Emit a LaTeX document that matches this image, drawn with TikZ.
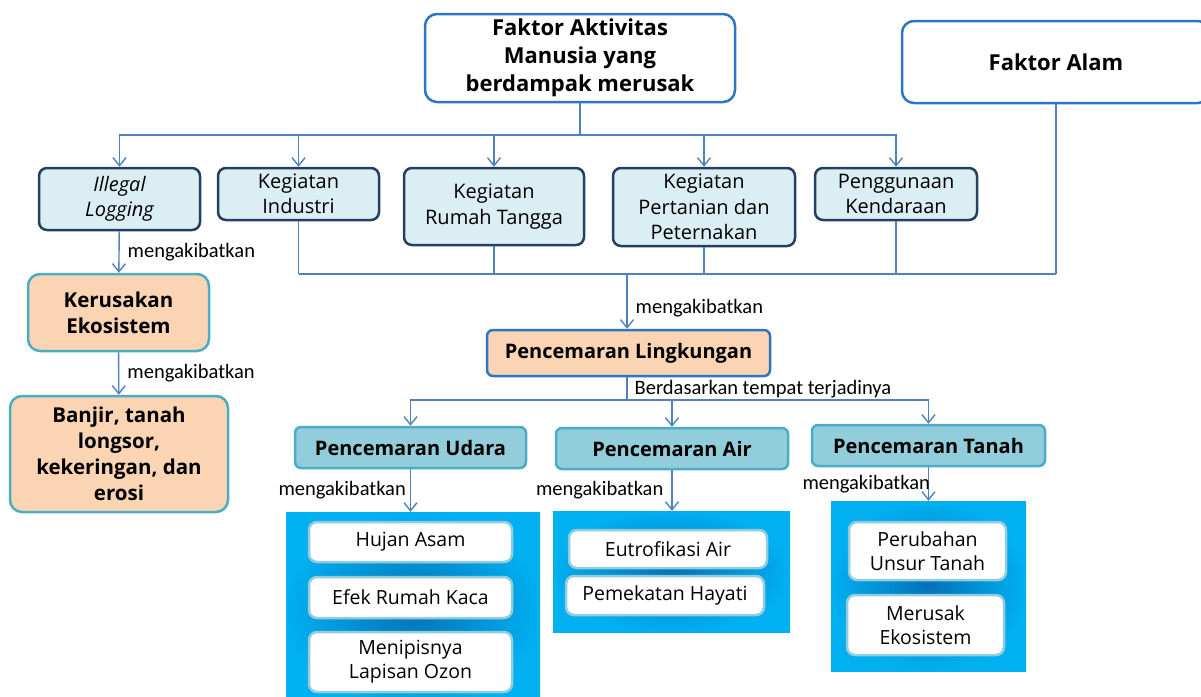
\documentclass[tikz,border=0pt]{standalone}
\usepackage{fontspec}
\setmainfont{Open Sans}
\newfontfamily\lblfont{Carlito}
\usepackage{xcolor}
\usetikzlibrary{arrows.meta, positioning, calc}
\definecolor{linkblue}{HTML}{4F81BD}
\definecolor{factorblue}{HTML}{2E75C6}
\definecolor{navyline}{HTML}{243F60}
\definecolor{paleblue}{HTML}{DAEEF3}
\definecolor{peach}{HTML}{FBD4B4}
\definecolor{tealline}{HTML}{4BACC6}
\definecolor{midteal}{HTML}{92CDDC}
\definecolor{panelout}{HTML}{00B0F0}
\definecolor{panelin}{HTML}{0572B8}
\tikzset{
  factorbox/.style={
    draw=factorblue, line width=2.5pt, rounded corners=12pt, fill=white,
    align=center, inner sep=0pt, font=\bfseries\fontsize{22}{28}\selectfont
  },
  activitybox/.style={
    draw=navyline, line width=2.5pt, rounded corners=8pt, fill=paleblue,
    align=center, inner sep=0pt, font=\fontsize{20}{25.5}\selectfont
  },
  impactbox/.style={
    draw=tealline, line width=2.5pt, rounded corners=12pt, fill=peach,
    align=center, inner sep=0pt, font=\bfseries\fontsize{20.5}{26}\selectfont
  },
  typebox/.style={
    draw=tealline, line width=2.5pt, rounded corners=6pt, fill=midteal,
    align=center, inner sep=0pt, font=\bfseries\fontsize{20}{26}\selectfont
  },
  effectpanel/.style={
    inner color=panelin, outer color=panelout, inner sep=0pt
  },
  effectbox/.style={
    draw=tealline!60, line width=2.5pt, rounded corners=8pt, fill=white,
    align=center, inner sep=0pt, font=\fontsize{19.5}{24}\selectfont
  },
  link/.style={draw=linkblue, line width=1.4pt},
  linkarrow/.style={link, -{Straight Barb[length=8pt, width=13pt]}},
  causelabel/.style={font=\lblfont\fontsize{20.5}{23}\selectfont, inner sep=2pt},
}
\begin{document}
\begin{tikzpicture}[x=1pt, y=-1pt]
  \useasboundingbox (0,0) rectangle (1201,696);

  % ── Faktor (top) ──
  \node[factorbox, minimum width=310pt, minimum height=88pt] (aktivitas)
    at (580,58) {Faktor Aktivitas\\Manusia yang\\berdampak merusak};
  \node[factorbox, minimum width=308pt, minimum height=82pt] (alam)
    at (1056,62) {Faktor Alam};

  % ── Aktivitas manusia ──
  \node[activitybox, minimum width=161pt, minimum height=62pt] (illegal)
    at (119.5,199) {\itshape Illegal\\\itshape Logging};
  \node[activitybox, minimum width=161pt, minimum height=52pt] (industri)
    at (298.5,194) {Kegiatan\\Industri};
  \node[activitybox, minimum width=180pt, minimum height=77pt] (rumah)
    at (494,206.5) {Kegiatan\\Rumah Tangga};
  \node[activitybox, minimum width=182pt, minimum height=78pt] (pertanian)
    at (704,207) {Kegiatan\\Pertanian dan\\Peternakan};
  \node[activitybox, minimum width=162pt, minimum height=52pt] (kendaraan)
    at (896,194) {Penggunaan\\Kendaraan};

  \coordinate (topbus) at (580,135);
  \draw[link] (aktivitas) -- (topbus);
  \foreach \n in {illegal,industri,rumah,pertanian,kendaraan}
    \draw[linkarrow] (topbus) -| (\n);

  % ── Kerusakan ekosistem (left) ──
  \node[impactbox, minimum width=181pt, minimum height=77pt] (kerusakan)
    at (118.5,312.5) {Kerusakan\\Ekosistem};
  \node[impactbox, minimum width=218pt, minimum height=116pt] (banjir)
    at (119,454) {Banjir, tanah\\longsor,\\kekeringan, dan\\erosi};

  \draw[linkarrow] (illegal) -- (kerusakan)
    node[causelabel, midway, right=6pt] {mengakibatkan};
  \draw[linkarrow] (kerusakan) -- (banjir)
    node[causelabel, midway, right=6pt] {mengakibatkan};

  % ── Pencemaran lingkungan ──
  \node[factorbox, fill=peach, rounded corners=6pt, font=\bfseries\fontsize{20}{26}\selectfont,
    minimum width=283pt, minimum height=46pt] (lingkungan)
    at (628.5,353) {Pencemaran Lingkungan};

  \coordinate (midbus) at (627,274);
  \foreach \n in {industri,rumah,pertanian,kendaraan,alam}
    \draw[link] (\n.south) -- (\n.south |- midbus);
  \draw[link] (industri.south |- midbus) -- (alam.south |- midbus);
  \draw[linkarrow] (midbus) -- (lingkungan.north -| midbus)
    node[causelabel, pos=0.62, right=6pt] {mengakibatkan};

  % ── Jenis pencemaran ──
  \node[typebox, minimum width=231pt, minimum height=41pt] (udara)
    at (410.5,447.5) {Pencemaran Udara};
  \node[typebox, minimum width=232pt, minimum height=41pt] (air)
    at (672,448.5) {Pencemaran Air};
  \node[typebox, minimum width=233pt, minimum height=41pt] (tanah)
    at (928.5,445.5) {Pencemaran Tanah};

  \coordinate (lowbus) at (627,400);
  \draw[link] (lingkungan.south -| lowbus) -- (lowbus)
    node[causelabel, pos=1, anchor=south west, xshift=5pt, yshift=-1pt]
    {Berdasarkan tempat terjadinya};
  \foreach \n in {udara,air,tanah}
    \draw[linkarrow] (lowbus) -| (\n);

  % ── Akibat (blue panels) ──
  \node[effectpanel, minimum width=254pt, minimum height=196pt] (udarafx)
    at (413,610) {};
  \node[effectpanel, minimum width=237pt, minimum height=121pt] (airfx)
    at (671.5,571.5) {};
  \node[effectpanel, minimum width=195pt, minimum height=170pt] (tanahfx)
    at (928.5,586) {};

  \node[effectbox, minimum width=203pt, minimum height=40pt] (hujan)
    at (410.5,542) {Hujan Asam};
  \node[effectbox, minimum width=203pt, minimum height=41pt] (efek)
    at (410.5,597.5) {Efek Rumah Kaca};
  \node[effectbox, minimum width=203pt, minimum height=60pt] (ozon)
    at (410.5,662) {Menipisnya\\Lapisan Ozon};
  \node[effectbox, minimum width=198pt, minimum height=38pt] (eutrofikasi)
    at (668,549) {Eutrofikasi Air};
  \node[effectbox, minimum width=198pt, minimum height=39pt] (pemekatan)
    at (665,595.5) {Pemekatan Hayati};
  \node[effectbox, minimum width=157pt, minimum height=58pt] (unsur)
    at (927.5,551) {Perubahan\\Unsur Tanah};
  \node[effectbox, minimum width=157pt, minimum height=60pt] (ekosistem)
    at (925.5,625) {Merusak\\Ekosistem};

  \draw[linkarrow] (udara) -- (udara.south |- udarafx.north)
    node[causelabel, midway, left=2pt] {mengakibatkan};
  \draw[linkarrow] (air) -- (air.south |- airfx.north)
    node[causelabel, midway, left=6pt] {mengakibatkan};
  \draw[linkarrow] (tanah) -- (tanah.south |- tanahfx.north)
    node[causelabel, midway, anchor=east, xshift=4pt] {mengakibatkan};
\end{tikzpicture}
\end{document}
